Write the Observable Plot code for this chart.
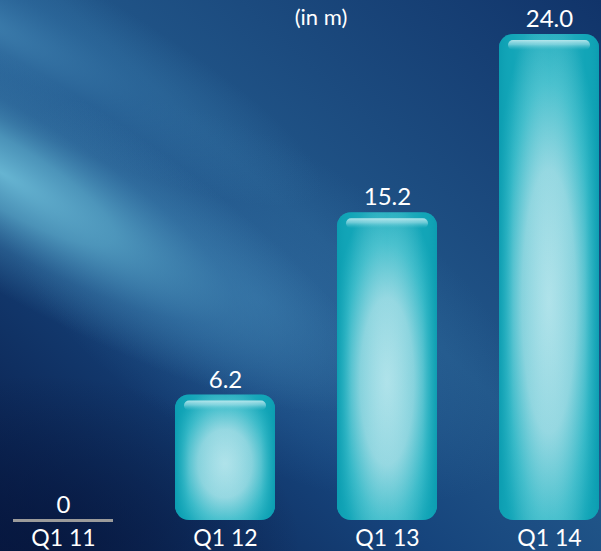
<!DOCTYPE html>
<html>
<head>
<meta charset="utf-8">
<script src="https://cdn.jsdelivr.net/npm/d3@7"></script>
<script src="https://cdn.jsdelivr.net/npm/@observablehq/plot@0.6"></script>
<style>
  html, body { margin: 0; padding: 0; background: #16396a; }
  #chart { width: 601px; height: 551px; overflow: hidden; }
  svg { display: block; }
</style>
</head>
<body>
<div id="chart"></div>
<script>
// Data
const quarters = ["Q1 11", "Q1 12", "Q1 13", "Q1 14"];
const values = [0, 6.2, 15.2, 24.0];
const valueLabels = ["0", "6.2", "15.2", "24.0"];
const unitLabel = "(in m)";

const data = quarters.map((q, i) => ({ q, value: values[i], label: valueLabels[i] }));
const barData = data.filter(d => d.value > 0);
const zeroData = data.filter(d => d.value === 0);

const font = "Lato, 'Open Sans', sans-serif";

const chart = Plot.plot({
  width: 601,
  height: 551,
  marginTop: 34,
  marginBottom: 31,
  marginLeft: 12,
  marginRight: 0,
  style: { background: "transparent", fontFamily: font, overflow: "visible" },
  x: { domain: quarters, paddingInner: 0.38, paddingOuter: 0, label: null },
  y: { domain: [0, 24], axis: null },
  marks: [
    Plot.axisX({ tickSize: 0, tickPadding: 9, fontSize: 23, fill: "#ffffff", label: null }),
    Plot.barY(barData, { x: "q", y: "value", fill: "url(#barGrad)", rx: 14 }),
    Plot.barY(barData, { x: "q", y: "value", fill: "url(#barGlow)", rx: 14 }),
    Plot.rect(barData, {
      x: "q", y1: "value", y2: "value",
      insetTop: 6, insetBottom: -16, insetLeft: 9, insetRight: 9,
      rx: 5, fill: "url(#hiGrad)"
    }),
    Plot.tickY(zeroData, { x: "q", y: "value", stroke: "#9b9b9b", strokeWidth: 3 }),
    Plot.text(data, { x: "q", y: "value", text: "label", dy: -15, fontSize: 24, fill: "#ffffff" }),
    Plot.text([unitLabel], { frameAnchor: "top", dy: -25, dx: 14, fontSize: 22, fill: "#ffffff" })
  ]
});

document.getElementById("chart").appendChild(chart);

// Decorative background and gradients
const svg = d3.select(chart);
const defs = svg.insert("defs", ":first-child");

function stops(grad, list) {
  list.forEach(([o, c, a]) => grad.append("stop").attr("offset", o).attr("stop-color", c).attr("stop-opacity", a));
}

stops(defs.append("linearGradient").attr("id", "bgGrad")
  .attr("x1", 0).attr("y1", 1).attr("x2", 1).attr("y2", 0), [
  ["0%", "#081a46", 1], ["36%", "#16447c", 1], ["55%", "#215689", 1], ["100%", "#11346a", 1]
]);

stops(defs.append("radialGradient").attr("id", "streak1")
  .attr("cx", 0.26).attr("cy", 0.5).attr("r", 0.5), [
  ["0%", "#6abad6", 0.95], ["30%", "#5caccc", 0.75], ["62%", "#4a94bf", 0.35], ["100%", "#4a94bf", 0]
]);
stops(defs.append("radialGradient").attr("id", "streak2")
  .attr("cx", 0.2).attr("cy", 0.5).attr("r", 0.5), [
  ["0%", "#4d95c1", 0.7], ["50%", "#3d83b5", 0.35], ["100%", "#3d83b5", 0]
]);
stops(defs.append("radialGradient").attr("id", "streak3")
  .attr("cx", 0.5).attr("cy", 0.5).attr("r", 0.5), [
  ["0%", "#3d7fb2", 0.5], ["100%", "#3d7fb2", 0]
]);
stops(defs.append("radialGradient").attr("id", "darkBL")
  .attr("cx", 0.5).attr("cy", 0.5).attr("r", 0.5), [
  ["0%", "#06163c", 0.75], ["100%", "#06163c", 0]
]);

stops(defs.append("radialGradient").attr("id", "barGrad")
  .attr("cx", 0.5).attr("cy", 0.55).attr("r", 0.6), [
  ["0%", "#abe1e9", 1], ["45%", "#90d6e0", 1], ["75%", "#3fbdcb", 1], ["100%", "#11a4b7", 1]
]);
stops(defs.append("linearGradient").attr("id", "barGlow")
  .attr("x1", 0).attr("y1", 0).attr("x2", 1).attr("y2", 0), [
  ["0%", "#0b9cb0", 0.9], ["14%", "#16a9ba", 0.2], ["50%", "#ffffff", 0.05],
  ["86%", "#16a9ba", 0.2], ["100%", "#0b9cb0", 0.9]
]);
stops(defs.append("linearGradient").attr("id", "hiGrad")
  .attr("x1", 0).attr("y1", 0).attr("x2", 0).attr("y2", 1), [
  ["0%", "#d6f4f7", 0.8], ["45%", "#b4e7ee", 0.55], ["100%", "#5ccad6", 0]
]);

const back = svg.insert("g", "defs + *").attr("class", "background");
back.append("rect").attr("x", 0).attr("y", 0).attr("width", 601).attr("height", 551).attr("fill", "url(#bgGrad)");
// broad soft glow in the middle
back.append("rect").attr("transform", "translate(260,300) rotate(32)")
  .attr("x", -300).attr("y", -150).attr("width", 600).attr("height", 300).attr("fill", "url(#streak3)");
// upper light streak
back.append("rect").attr("transform", "translate(0,30) rotate(27)")
  .attr("x", -200).attr("y", -80).attr("width", 800).attr("height", 160).attr("fill", "url(#streak2)");
// main light streak (from the left edge down to the right)
back.append("rect").attr("transform", "translate(0,172) rotate(31)")
  .attr("x", -220).attr("y", -105).attr("width", 860).attr("height", 210).attr("fill", "url(#streak1)");
// dark bottom-left
back.append("ellipse").attr("cx", 40).attr("cy", 545).attr("rx", 260).attr("ry", 170).attr("fill", "url(#darkBL)");
</script>
</body>
</html>
